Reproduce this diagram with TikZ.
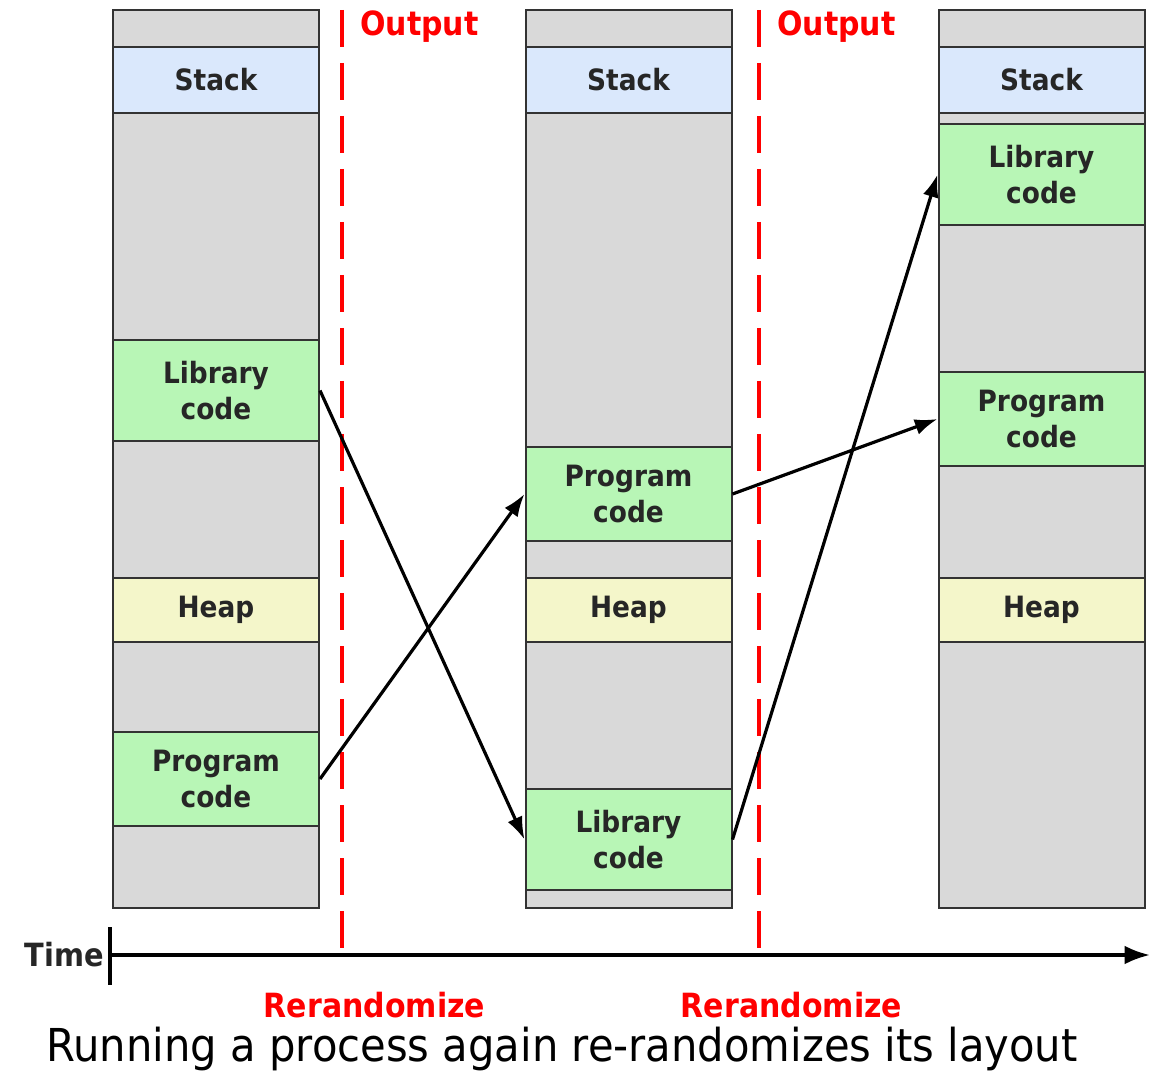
\documentclass[tikz,border=0pt]{standalone}
\usepackage{fontspec}
\setmainfont{DejaVu Sans}
\newfontfamily\lblfont[FakeStretch=0.9]{DejaVu Sans}
\newfontfamily\capfont[FakeStretch=0.92]{DejaVu Sans}
\usetikzlibrary{arrows.meta}

\definecolor{segGray}{HTML}{D9D9D9}
\definecolor{stackBlue}{HTML}{DAE8FC}
\definecolor{codeGreen}{HTML}{B8F6B6}
\definecolor{heapYellow}{HTML}{F4F6CA}
\definecolor{markRed}{HTML}{FF0000}
\definecolor{segLine}{HTML}{333333}

% one memory segment: name, x centre, y top, y bottom, fill, label
\newcommand\memseg[6]{%
  \node[memseg, fill=#5, minimum height={0.75pt*(#4-#3)}] (#1) at (#2,{(#3+#4)/2}) {#6};}

\tikzset{
  memseg/.style={draw=segLine, line width=1.5pt, inner sep=0pt,
    minimum width=154.5pt, align=center,
    font=\lblfont\bfseries\fontsize{22}{27}\selectfont, text=black!85},
  jump/.style={line width=2.4pt, -{Latex[length=17pt,width=12pt]}},
  boundary/.style={draw=markRed, line width=3pt, dash pattern=on 27.75pt off 12pt},
  redlabel/.style={text=markRed, font=\lblfont\bfseries\fontsize{25}{29}\selectfont, inner sep=0pt},
}

\begin{document}
\begin{tikzpicture}[x=0.75pt, y=-0.75pt]
\useasboundingbox (0,0) rectangle (1154,1073);

% first run
\memseg{aTop}{216}{10}{47}{segGray}{}
\memseg{aStack}{216}{47}{113}{stackBlue}{Stack}
\memseg{aGapA}{216}{113}{340}{segGray}{}
\memseg{aLib}{216}{340}{441}{codeGreen}{Library\\code}
\memseg{aGapB}{216}{441}{578}{segGray}{}
\memseg{aHeap}{216}{578}{642}{heapYellow}{Heap}
\memseg{aGapC}{216}{642}{732}{segGray}{}
\memseg{aProg}{216}{732}{826}{codeGreen}{Program\\code}
\memseg{aGapD}{216}{826}{908}{segGray}{}

% second run
\memseg{bTop}{628.5}{10}{47}{segGray}{}
\memseg{bStack}{628.5}{47}{113}{stackBlue}{Stack}
\memseg{bGapA}{628.5}{113}{447}{segGray}{}
\memseg{bProg}{628.5}{447}{541}{codeGreen}{Program\\code}
\memseg{bGapB}{628.5}{541}{578}{segGray}{}
\memseg{bHeap}{628.5}{578}{642}{heapYellow}{Heap}
\memseg{bGapC}{628.5}{642}{789}{segGray}{}
\memseg{bLib}{628.5}{789}{890}{codeGreen}{Library\\code}
\memseg{bGapD}{628.5}{890}{908}{segGray}{}

% third run
\memseg{cTop}{1041.5}{10}{47}{segGray}{}
\memseg{cStack}{1041.5}{47}{113}{stackBlue}{Stack}
\memseg{cGapA}{1041.5}{113}{124}{segGray}{}
\memseg{cLib}{1041.5}{124}{225}{codeGreen}{Library\\code}
\memseg{cGapB}{1041.5}{225}{372}{segGray}{}
\memseg{cProg}{1041.5}{372}{466}{codeGreen}{Program\\code}
\memseg{cGapC}{1041.5}{466}{578}{segGray}{}
\memseg{cHeap}{1041.5}{578}{642}{heapYellow}{Heap}
\memseg{cGapD}{1041.5}{642}{908}{segGray}{}

% rerandomization boundaries
\coordinate (rOneTop) at (342,10);
\coordinate (rOneBot) at (342,963);
\coordinate (rTwoTop) at (759,10);
\coordinate (rTwoBot) at (759,963);
\draw[boundary] (rOneTop) -- (rOneBot);
\draw[boundary] (rTwoTop) -- (rTwoBot);

\node[redlabel, anchor=base west] (outOne) at (360,36) {Output};
\node[redlabel, anchor=base west] (outTwo) at (777,36) {Output};
\node[redlabel, anchor=base] (reOne) at (374.5,1017) {Rerandomize};
\node[redlabel, anchor=base] (reTwo) at (791.5,1017) {Rerandomize};

% segment moves between runs
\draw[jump] (aLib.east) -- (bLib.west);
\draw[jump] (aProg.east) -- (bProg.west);
\draw[jump] (bProg.east) -- (cProg.west);
\draw[jump] (bLib.east) -- (cLib.west);

% time axis
\coordinate (tStart) at (110,955);
\coordinate (tEnd) at (1150,955);
\coordinate (tickTop) at (110,927);
\coordinate (tickBot) at (110,985);
\draw[line width=2.6pt, -{Latex[length=19pt,width=14pt]}] (tStart) -- (tEnd);
\draw[line width=2.6pt] (tickTop) -- (tickBot);
\node[anchor=east, inner sep=0pt, font=\lblfont\bfseries\fontsize{24}{28}\selectfont, text=black!85] (timeLbl) at (104,955) {Time};

\node[anchor=base, inner sep=0pt, font=\capfont\fontsize{34}{40}\selectfont] (caption) at (562,1061) {Running a process again re-randomizes its layout};
\end{tikzpicture}
\end{document}
